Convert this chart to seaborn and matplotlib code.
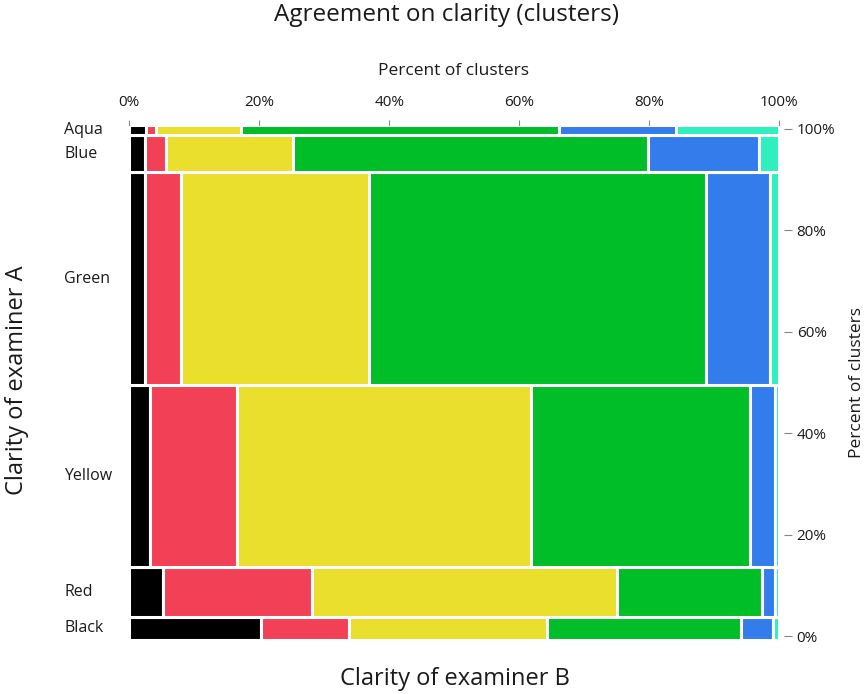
import matplotlib
matplotlib.use("Agg")
import matplotlib.pyplot as plt
import matplotlib.transforms as mtransforms
import seaborn as sns
import pandas as pd
import numpy as np

# Clarity of examiner A (rows, top to bottom) and their share of clusters (%)
rows_a = ["Aqua", "Blue", "Green", "Yellow", "Red", "Black"]
row_share = [1.8, 7.3, 41.4, 35.4, 9.8, 4.3]

# Clarity of examiner B (columns, left to right)
cols_b = ["Black", "Red", "Yellow", "Green", "Blue", "Aqua"]

# Percent of each row going to each column
aqua_row = [2.6, 1.5, 13.1, 48.9, 18.0, 15.9]
blue_row = [2.4, 3.2, 19.6, 54.6, 17.0, 3.2]
green_row = [2.4, 5.5, 28.9, 51.9, 9.8, 1.5]
yellow_row = [3.2, 13.3, 45.3, 33.7, 3.9, 0.6]
red_row = [5.2, 22.9, 47.0, 22.3, 2.0, 0.6]
black_row = [20.2, 13.6, 30.4, 29.9, 4.9, 1.0]

pct_ticks = [0, 20, 40, 60, 80, 100]
pct_labels = ["0%", "20%", "40%", "60%", "80%", "100%"]

palette = {
    "Black": "#000000",
    "Red": "#F24057",
    "Yellow": "#EADF2C",
    "Green": "#00BE28",
    "Blue": "#327DEB",
    "Aqua": "#2EF0BE",
}

sns.set_theme(style="white")
plt.rcParams["font.family"] = ["Open Sans", "DejaVu Sans"]
text_col = "#1a1a1a"

# long table of mosaic cells
table = pd.DataFrame(
    [aqua_row, blue_row, green_row, yellow_row, red_row, black_row],
    index=rows_a, columns=cols_b,
)
cells = []
bottom = 0.0
for row in rows_a[::-1]:
    h = row_share[rows_a.index(row)]
    left = 0.0
    for col in cols_b:
        w = table.loc[row, col]
        cells.append(dict(row=row, col=col, left=left, width=w, bottom=bottom, height=h))
        left += w
    bottom += h
cells = pd.DataFrame(cells)

W, H = 868, 694
fig = plt.figure(figsize=(W / 100, H / 100), dpi=100)
ax = fig.add_axes([128 / W, (H - 639.5) / H, 652 / W, 514 / H])

for _, c in cells.iterrows():
    ax.barh(c["bottom"] + c["height"] / 2, c["width"], left=c["left"],
            height=c["height"], color=palette[c["col"]],
            edgecolor="white", linewidth=2.2)

ax.set_xlim(-0.2, 100.1)
ax.set_ylim(0, 100)
ax.set_yticks([])
sns.despine(ax=ax, left=True, bottom=True, top=True, right=True)

# top percent axis
ax.xaxis.tick_top()
ax.set_xticks(pct_ticks)
ax.set_xticklabels(pct_labels, fontsize=11, color=text_col)
ax.tick_params(axis="x", direction="out", length=4.5, width=0.8, color="#888888", pad=7)
ax.xaxis.set_label_position("top")
ax.set_xlabel("Percent of clusters", fontsize=12.5, color=text_col, labelpad=14)

# right percent axis (scale sits slightly inside the mosaic's outer edges)
ax_r = ax.twinx()
ax_r.set_ylim(-0.69, 100.69)
sns.despine(ax=ax_r, left=True, bottom=True, top=True, right=True)
ax_r.spines["right"].set_position(("outward", 3))
ax_r.set_yticks(pct_ticks)
ax_r.set_yticklabels(pct_labels, fontsize=11, color=text_col)
ax_r.tick_params(axis="y", direction="out", length=6, width=0.8, color="#888888", pad=3)
ax_r.set_ylabel("Percent of clusters", fontsize=12.5, color=text_col, labelpad=10)

# row labels on the left
trans = mtransforms.blended_transform_factory(fig.transFigure, ax.transData)
row_mid = cells.groupby("row")[["bottom", "height"]].first()
for row in rows_a:
    y = row_mid.loc[row, "bottom"] + row_mid.loc[row, "height"] / 2
    ax.text(64 / W, y, row, transform=trans, ha="left", va="center",
            fontsize=11.5, color=text_col)

fig.text(447 / W, 1 - 15 / H, "Agreement on clarity (clusters)", ha="center", va="center",
         fontsize=17.5, color=text_col)
fig.text(455 / W, 1 - 679 / H, "Clarity of examiner B", ha="center", va="center",
         fontsize=17, color=text_col)
fig.text(17 / W, 1 - 380 / H, "Clarity of examiner A", ha="center", va="center",
         rotation=90, fontsize=17, color=text_col)

fig.savefig("out.png", dpi=100, facecolor="white")
